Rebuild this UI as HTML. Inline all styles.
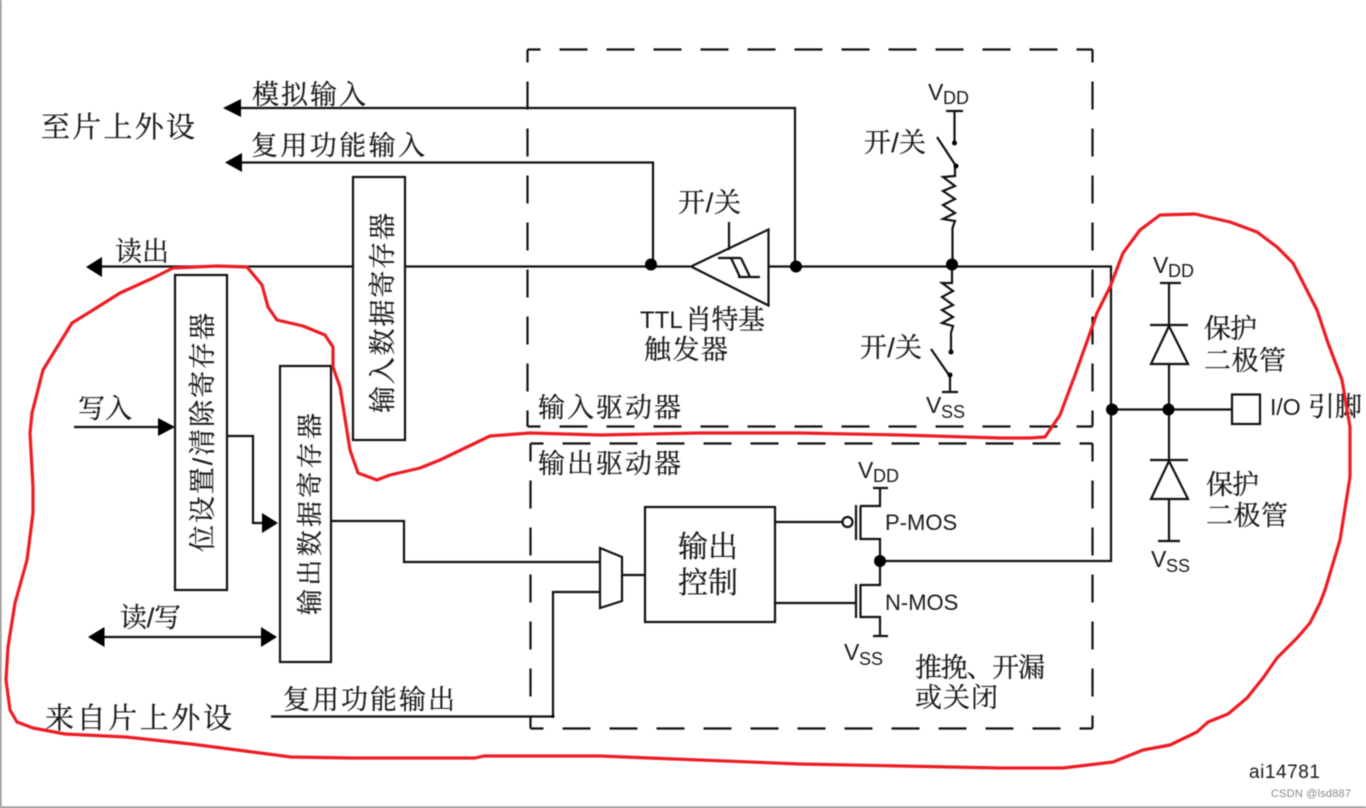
<!DOCTYPE html>
<html><head><meta charset="utf-8"><style>
html,body{margin:0;padding:0;background:#fff;width:1366px;height:808px;overflow:hidden}
svg{display:block;position:absolute;left:0;top:0}
#d{filter:blur(.4px)}
text{font-family:"Liberation Sans","Noto Serif CJK SC",serif;fill:#1a1a1a;stroke:#1a1a1a;stroke-width:.25px}
.s{font-family:"Liberation Sans",sans-serif;stroke:none}
.l{stroke:#111;stroke-width:2.2;fill:none}
.t{stroke:#111;stroke-width:2.2;fill:#fff}
.d{stroke:#111;stroke-width:2.2;fill:none;stroke-dasharray:28 19;stroke-dashoffset:15}
</style></head><body>
<svg id="d" width="1366" height="808" viewBox="0 0 1366 808" xmlns="http://www.w3.org/2000/svg">
<rect x="0" y="0" width="1.5" height="808" fill="#888"/>
<rect x="0" y="806.5" width="1366" height="1.5" fill="#888"/>

<!-- dashed boxes -->
<path class="d" d="M527.5 49.5H1092.5"/>
<path class="d" d="M527.5 49.5V426.5"/>
<path class="d" d="M1092.5 49.5V426.5"/>
<path class="d" d="M527.5 426.5H1092.5"/>
<path class="d" d="M530.5 443.5H1092.5"/>
<path class="d" d="M530.5 728.5V443.5"/>
<path class="d" d="M1092.5 728.5V443.5"/>
<path class="d" d="M530.5 728.5H1092.5"/>

<!-- wires -->
<path class="l" d="M240 108H795V266"/>
<path class="l" d="M240 162.500H653V264"/>
<path class="l" d="M100 266.500H353M405 266.500H690M769 266.500H1111V561H880"/>
<path class="l" d="M74 427H160"/>
<path class="l" d="M227 436H253V523H264"/>
<path class="l" d="M102 637H264"/>
<path class="l" d="M331 521H404V562H600"/>
<path class="l" d="M271 716.500H553V592H600"/>
<path class="l" d="M622 575H645"/>

<!-- arrows -->
<g fill="#000" stroke="none">
<path d="M223 108L241 99V117Z"/>
<path d="M225 162.500L242 153V172Z"/>
<path d="M86 267L102 257V277Z"/>
<path d="M175 427L158 418V436Z"/>
<path d="M278 523L262 513V533Z"/>
<path d="M88 637L104.500 627V647Z"/>
<path d="M277 637L261 627V647Z"/>
</g>

<!-- register boxes -->
<rect class="t" x="353" y="177" width="52" height="263"/>
<rect class="t" x="175" y="275" width="52" height="315"/>
<rect class="t" x="280" y="366" width="51" height="296"/>

<!-- schmitt -->
<path class="t" d="M691 266.500L768.500 229.500V305.500Z"/>
<path class="l" d="M729 222V250M718 258H741M731 258L740 277M741 258L750 277M738 277H760"/>
<!-- pull-up, pull-down -->
<path class="l" d="M946 111H963M954.500 111V143M937 137L956 166"/>
<path class="l" d="M955 166V176L943 177L955 186L943 191L955 199L943 205L955 213L943 219L955 221L952.500 228V266"/>
<path class="l" d="M952 266V283H942L953 291L942 297L953 305L942 310L953 317L942 323L953 326L951 333V352"/>
<path class="l" d="M931 349L949 375M950 375V392M942 392H958"/>
<!-- output section -->
<rect class="t" x="645" y="507" width="130" height="115"/>
<path class="t" d="M600 548L622 557V601L600 608Z"/>
<circle cx="847.500" cy="522" r="5" class="l"/>
<path class="l" d="M775 522H842M856 505V540M860.500 506V540M860 506H880V488M873 488H888M860 539H880V585H860"/>
<path class="l" d="M775 603H856M856 584V618M860.500 584V618M860 617H880V636M873 636H888"/>
<!-- diodes -->
<path class="l" d="M1160 283H1181M1169 283V326M1150 325H1188M1169 364V461M1150 460H1188M1169 499V541M1158 541H1180"/>
<path class="t" d="M1169 326L1151 364H1188Z"/>
<path class="t" d="M1169 461L1151 499H1188Z"/>
<path class="l" d="M1111 409.500H1232"/>
<rect class="t" x="1232" y="394.500" width="28" height="29.500"/>

<!-- dots -->
<g fill="#000" stroke="none">
<circle cx="651" cy="264.500" r="6"/>
<circle cx="796" cy="266.500" r="6"/>
<circle cx="952" cy="264.500" r="6"/>
<circle cx="880" cy="561" r="6"/>
<circle cx="1112" cy="409.500" r="6"/>
<circle cx="1168.500" cy="409.500" r="6"/>
<circle cx="954.500" cy="143" r="2.500"/>
<circle cx="956" cy="166" r="2.500"/>
<circle cx="951" cy="352" r="2.500"/>
<circle cx="950" cy="375" r="2.500"/>
<circle cx="553" cy="716.500" r="1.500"/>
</g>

<!-- labels -->
<text x="41" y="137" font-size="29" textLength="154">至片上外设</text>
<text x="252" y="104" font-size="27" textLength="114">模拟输入</text>
<text x="251" y="155" font-size="27" textLength="174">复用功能输入</text>
<text x="115" y="261" font-size="27" textLength="54">读出</text>
<text x="78" y="418" font-size="27" textLength="54">写入</text>
<text x="120" y="627" font-size="27" textLength="61">读/写</text>
<text x="45" y="728" font-size="29" textLength="187">来自片上外设</text>
<text x="283" y="709" font-size="27" textLength="172">复用功能输出</text>
<text x="678" y="212" font-size="27" textLength="63">开/关</text>
<text x="864" y="152" font-size="27" textLength="62">开/关</text>
<text x="860" y="357" font-size="27" textLength="62">开/关</text>
<text class="s" x="640" y="328" font-size="24">TTL</text>
<text x="685" y="329" font-size="27" textLength="80">肖特基</text>
<text x="644" y="359" font-size="27" textLength="84">触发器</text>
<text x="538" y="417" font-size="27" textLength="143">输入驱动器</text>
<text x="538" y="473" font-size="27" textLength="143">输出驱动器</text>
<text x="678" y="557" font-size="30" textLength="60">输出</text>
<text x="678" y="593" font-size="30" textLength="60">控制</text>
<text x="915" y="677" font-size="27" textLength="130">推挽、开漏</text>
<text x="915" y="707" font-size="27" textLength="83">或关闭</text>
<text x="1204" y="338" font-size="27" textLength="53">保护</text>
<text x="1204" y="370" font-size="27" textLength="82">二极管</text>
<text x="1206" y="494" font-size="27" textLength="53">保护</text>
<text x="1206" y="525" font-size="27" textLength="82">二极管</text>
<text class="s" x="1270" y="415" font-size="23">I/O</text>
<text x="1308" y="416" font-size="27" textLength="54">引脚</text>

<!-- vertical -->
<text transform="translate(392 413) rotate(-90)" font-size="27" textLength="200">输入数据寄存器</text>
<text transform="translate(212 552) rotate(-90)" font-size="27" textLength="239">位设置/清除寄存器</text>
<text transform="translate(319 615) rotate(-90)" font-size="26" textLength="202">输出数据寄存器</text>

<!-- supply labels -->
<g>
<text class="s" x="928" y="100" font-size="23">V</text><text class="s" x="943" y="104" font-size="18">DD</text>
<text class="s" x="926" y="413" font-size="23">V</text><text class="s" x="941" y="418" font-size="18">SS</text>
<text class="s" x="858" y="478" font-size="23">V</text><text class="s" x="873" y="482" font-size="18">DD</text>
<text class="s" x="844" y="660" font-size="23">V</text><text class="s" x="859" y="665" font-size="18">SS</text>
<text class="s" x="1153" y="273" font-size="23">V</text><text class="s" x="1168" y="277" font-size="18">DD</text>
<text class="s" x="1151" y="567" font-size="23">V</text><text class="s" x="1166" y="572" font-size="18">SS</text>
<text class="s" x="885" y="530" font-size="22">P-MOS</text>
<text class="s" x="885" y="610" font-size="22">N-MOS</text>
<text class="s" x="1249" y="778" font-size="19" textLength="71">ai14781</text>
<text class="s" x="1271" y="797" font-size="11" textLength="80" style="fill:#888">CSDN @lsd887</text>
</g>

<!-- red hand-drawn outline -->
<path fill="none" stroke="#ed1c24" stroke-width="3.200" stroke-linejoin="round" stroke-linecap="round"
 d="M1045 437L1060 415L1075 375L1090 333L1097 313L1110 287L1123 253L1140 230L1160 215L1195 214L1230 222L1257 232L1277 247L1293 263L1317 310L1328 343L1342 380L1350 427L1350 477L1340 540L1325 590L1320 603L1310 623L1297 638L1277 658L1263 678L1247 698L1228 714L1208 722L1197 732L1170 745L1143 750L1113 762L1063 768L1000 768L800 764L600 756L484 756L475 758L352 758L291 757L245 751L191 744L126 737L65 734L33 728L17 722L10 710L6 680L8 647L15 603L27 560L33 513L33 487L30 433L32 413L43 370L72 323L93 310L120 293L153 278L173 268L217 266L247 267L262 285L268 307L277 320L303 326L325 335L333 347L333 367L340 387L350 450L358 473L377 480L390 475L420 468L440 460L490 436L530 433L600 435L700 433L800 433L900 435L1000 438L1030 438Z"/>
</svg>
</body></html>
